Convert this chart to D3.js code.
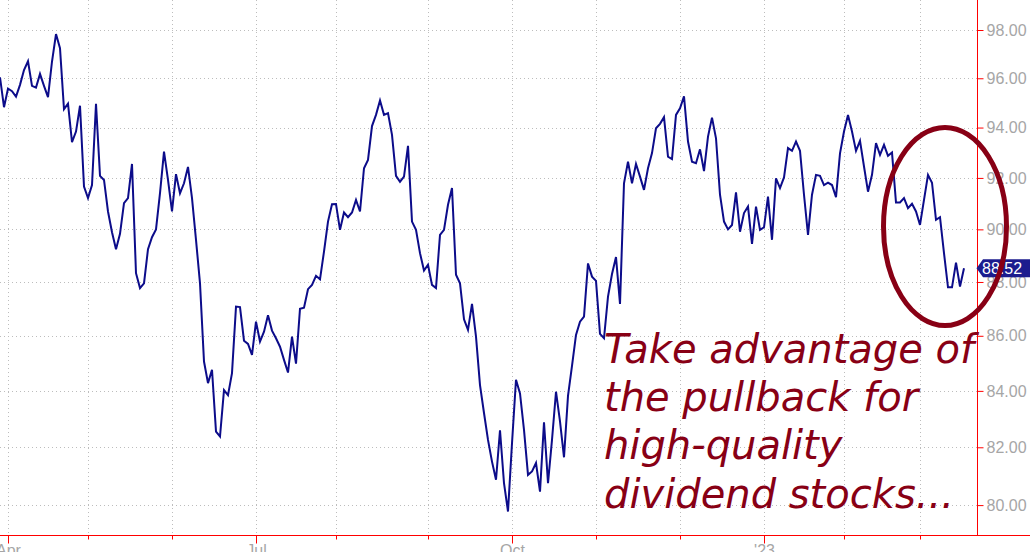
<!DOCTYPE html>
<html>
<head>
<meta charset="utf-8">
<script src="https://cdn.jsdelivr.net/npm/d3@7"></script>
<style>
  body { margin: 0; background: #fff; }
  svg { display: block; }
</style>
</head>
<body>
<div id="chart"></div>
<script>
// daily closes, one per trading day starting 2022-03-30
var startDate = "2022-03-30"
var holidays = ["2022-04-15", "2022-05-30", "2022-06-20", "2022-07-04", "2022-09-05",
   "2022-11-24", "2022-12-26", "2023-01-02", "2023-01-16", "2023-02-20"]
var closes = [
   96.04, 94.82, 95.58, 95.47, 95.25, 95.73, 96.34, 96.70, 95.69, 95.62,
   96.18, 95.69, 95.23, 96.69, 97.83, 97.24, 94.74, 94.96, 93.42, 93.84,
   94.88, 91.66, 91.21, 91.72, 94.96, 92.08, 91.92, 90.69, 89.89, 89.24,
   89.83, 91.01, 91.21, 92.55, 88.33, 87.77, 87.95, 89.24, 89.70, 90.00,
   91.40, 93.04, 91.92, 90.69, 92.15, 91.40, 91.79, 92.43, 91.21, 89.60,
   87.95, 85.06, 84.28, 84.76, 82.55, 82.38, 84.03, 83.85, 84.64, 87.08,
   87.06, 85.82, 85.70, 85.30, 86.52, 85.79, 86.15, 86.76, 86.19, 85.91,
   85.60, 85.12, 84.66, 85.97, 84.98, 87.00, 87.04, 87.73, 87.89, 88.23,
   88.10, 89.15, 90.30, 90.97, 90.98, 89.98, 90.65, 90.47, 90.65, 91.14,
   90.69, 92.38, 92.71, 94.06, 94.51, 95.09, 94.51, 94.58, 93.71, 92.08,
   91.85, 92.05, 93.27, 90.30, 89.98, 89.09, 88.43, 88.65, 87.89, 87.77,
   89.79, 89.98, 90.95, 91.60, 88.27, 87.95, 86.61, 86.22, 87.18, 85.97,
   84.21, 83.21, 82.26, 81.50, 80.87, 82.60, 80.75, 79.78, 82.14, 84.40,
   83.91, 82.61, 81.04, 81.16, 81.45, 80.46, 82.88, 80.75, 82.26, 83.97,
   82.91, 81.65, 83.82, 84.90, 86.03, 86.52, 86.71, 88.70, 88.20, 88.04,
   86.07, 85.91, 87.45, 88.30, 88.94, 87.18, 91.79, 92.64, 91.79, 92.55,
   92.05, 91.53, 92.38, 92.98, 93.97, 94.15, 94.42, 92.84, 92.74, 94.51,
   94.78, 95.26, 93.44, 92.64, 92.58, 93.13, 92.27, 93.64, 94.40, 93.57,
   91.34, 90.30, 90.00, 90.17, 91.43, 89.91, 90.63, 90.88, 89.44, 90.88,
   89.98, 90.08, 91.27, 89.60, 91.98, 91.60, 92.02, 93.18, 93.07, 93.44,
   93.07, 91.34, 89.79, 91.34, 92.12, 92.08, 91.72, 91.81, 91.72, 91.25,
   92.97, 93.84, 94.51, 93.84, 93.07, 93.47, 92.45, 91.46, 92.12, 93.38,
   92.91, 93.31, 92.87, 93.00, 91.04, 91.04, 91.21, 90.82, 90.99, 90.69,
   90.17, 91.14, 92.12, 91.81, 90.37, 90.47, 89.09, 87.80, 87.80, 88.73,
   87.83, 88.52
]
var yTicks = [80, 82, 84, 86, 88, 90, 92, 94, 96, 98]
var monthNames = ["Jan", "Feb", "Mar", "Apr", "May", "Jun", "Jul", "Aug", "Sep", "Oct", "Nov", "Dec"]
var noteLines = ["Take advantage of", "the pullback for", "high-quality", "dividend stocks..."]

// build the trading-day calendar
var parse = d3.utcParse("%Y-%m-%d")
var fmt = d3.utcFormat("%Y-%m-%d")
var dates = []
var day = parse(startDate)
while (dates.length < closes.length) {
   var wd = day.getUTCDay()
   if (wd != 0 && wd != 6 && holidays.indexOf(fmt(day)) < 0) {
      dates.push(day)
   }
   day = d3.utcDay.offset(day, 1)
}

// first trading day of every month
var months = []
dates.forEach(function(d, i) {
   if (i > 0 && d.getUTCMonth() != dates[i - 1].getUTCMonth()) {
      var m = d.getUTCMonth()
      var label = m == 0 ? "'" + String(d.getUTCFullYear()).slice(2) : monthNames[m]
      months.push({i: i, label: label, major: m % 3 == 0})
   }
})

var width = 1030
var height = 552
var plotRight = 977
var plotBottom = 535

var svg = d3.select("#chart")
   .append("svg")
   .attr("width", width)
   .attr("height", height)

var x = d3.scaleLinear()
   .domain([0, 244.25])
   .range([0, plotRight])

var y = d3.scaleLog()
   .domain([80, 98])
   .range([505.1, 30])

var grey = "#a6a6a6"
var red = "#ff0000"

// dotted grid
svg.append("g")
   .selectAll("line")
   .data(yTicks)
   .enter()
   .append("line")
   .attr("x1", 0)
   .attr("x2", plotRight)
   .attr("y1", function(d) { return Math.round(y(d)) + 0.5 })
   .attr("y2", function(d) { return Math.round(y(d)) + 0.5 })
   .attr("stroke", "#bdbdbd")
   .attr("stroke-dasharray", "1,3")

svg.append("g")
   .selectAll("line")
   .data(months)
   .enter()
   .append("line")
   .attr("x1", function(d) { return Math.round(x(d.i)) + 0.5 })
   .attr("x2", function(d) { return Math.round(x(d.i)) + 0.5 })
   .attr("y1", 0)
   .attr("y2", plotBottom)
   .attr("stroke", "#bdbdbd")
   .attr("stroke-dasharray", "1,3")

// right value axis
var yAxis = svg.append("g")
   .attr("transform", "translate(" + (plotRight + 0.5) + ",0)")
   .call(d3.axisRight(y).tickValues(yTicks).tickSize(6).tickPadding(3).tickFormat(d3.format(".2f")))
yAxis.select(".domain").remove()
yAxis.selectAll("line").attr("stroke", red)
yAxis.selectAll("text")
   .attr("fill", grey)
   .style("font-family", "'Liberation Sans', Arial, sans-serif")
   .style("font-size", "16px")

svg.append("line")
   .attr("x1", plotRight + 0.5)
   .attr("x2", plotRight + 0.5)
   .attr("y1", 0)
   .attr("y2", plotBottom)
   .attr("stroke", red)

// bottom date axis, minor then major ticks
var minorAxis = svg.append("g")
   .attr("transform", "translate(0," + (plotBottom + 0.5) + ")")
   .call(d3.axisBottom(x)
      .tickValues(months.filter(function(d) { return !d.major }).map(function(d) { return d.i }))
      .tickSize(4).tickFormat(""))
minorAxis.select(".domain").remove()
minorAxis.selectAll("line").attr("stroke", red)

var majorTicks = months.filter(function(d) { return d.major })
var majorAxis = svg.append("g")
   .attr("transform", "translate(0," + (plotBottom + 0.5) + ")")
   .call(d3.axisBottom(x)
      .tickValues(majorTicks.map(function(d) { return d.i }))
      .tickSize(8).tickPadding(1)
      .tickFormat(function(d) { return majorTicks.find(function(m) { return m.i == d }).label }))
majorAxis.select(".domain").remove()
majorAxis.selectAll("line").attr("stroke", red)
majorAxis.selectAll("text")
   .attr("fill", grey)
   .style("font-family", "'Liberation Sans', Arial, sans-serif")
   .style("font-size", "16px")

svg.append("line")
   .attr("x1", 0)
   .attr("x2", width)
   .attr("y1", plotBottom + 0.5)
   .attr("y2", plotBottom + 0.5)
   .attr("stroke", red)

// price line
var line = d3.line()
   .x(function(d, i) { return x(i) })
   .y(function(d) { return y(d) })

svg.append("path")
   .datum(closes)
   .attr("d", line)
   .attr("fill", "none")
   .attr("stroke", "#0c0c8a")
   .attr("stroke-width", 2)
   .attr("stroke-linejoin", "miter")

// last price flag
var last = closes[closes.length - 1]
var ly = y(last)
svg.append("path")
   .attr("d", "M" + (plotRight - 0.5) + "," + ly +
      "L" + (plotRight + 6) + "," + (ly - 9) +
      "L" + width + "," + (ly - 9) +
      "L" + width + "," + (ly + 9) +
      "L" + (plotRight + 6) + "," + (ly + 9) + "Z")
   .attr("fill", "#1c1c8e")
svg.append("text")
   .attr("x", plotRight + 5)
   .attr("y", ly)
   .attr("dy", "0.36em")
   .attr("fill", "#fff")
   .style("font-family", "'Liberation Sans', Arial, sans-serif")
   .style("font-size", "16px")
   .text(d3.format(".2f")(last))

// annotation circle and note
svg.append("ellipse")
   .attr("cx", 945)
   .attr("cy", 226.5)
   .attr("rx", 61.5)
   .attr("ry", 99)
   .attr("fill", "none")
   .attr("stroke", "#880015")
   .attr("stroke-width", 5)

svg.append("g")
   .selectAll("text")
   .data(noteLines)
   .enter()
   .append("text")
   .attr("x", 604)
   .attr("y", function(d, i) { return 362.5 + i * 48.4 })
   .attr("fill", "#880015")
   .style("font-family", "'DejaVu Sans', Verdana, sans-serif")
   .style("font-style", "italic")
   .style("font-size", "40px")
   .text(function(d) { return d })
</script>
</body>
</html>
